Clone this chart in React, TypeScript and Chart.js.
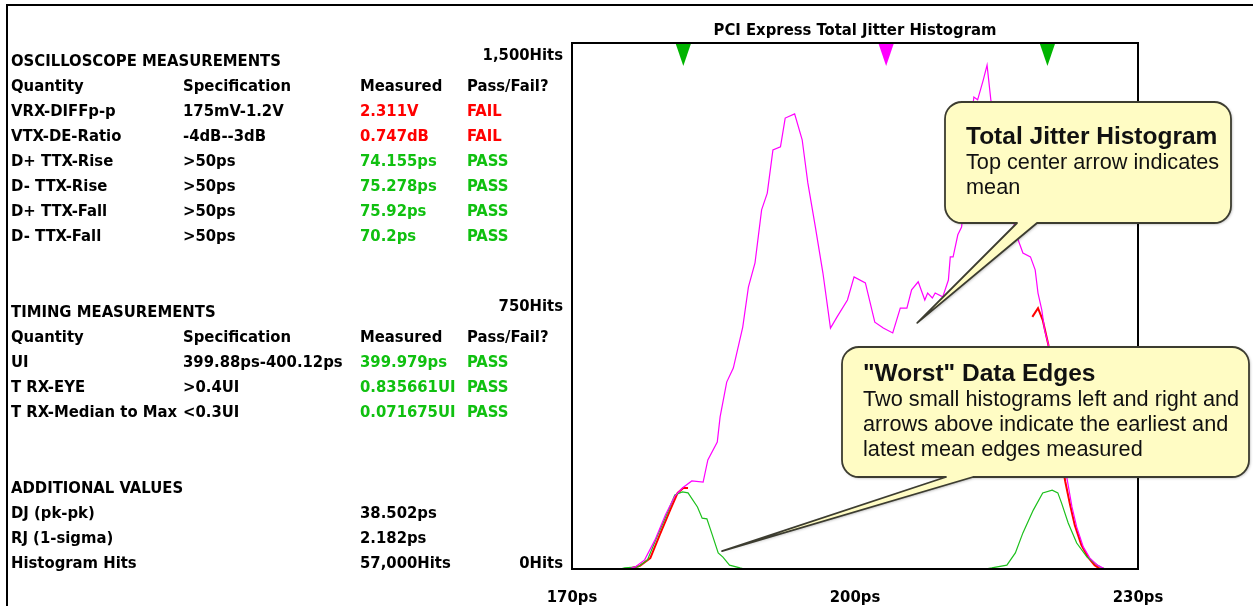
import React, { useEffect, useRef } from "react";
import { Chart, registerables } from "chart.js";

Chart.register(...registerables);

// ---------- data ----------
const totalX = [176.0, 176.7, 177.7, 178.8, 179.9, 180.9, 181.7, 182.7, 183.9, 184.4, 185.4, 185.7, 186.4, 187.1, 188.1, 188.7, 189.4, 190.1, 190.7, 191.3, 192.1, 192.6, 193.6, 194.4, 195.0, 195.8, 196.6, 197.4, 198.1, 199.2, 199.9, 201.1, 202.1, 203.0, 204.0, 204.8, 205.5, 206.0, 206.7, 207.4, 207.7, 208.2, 208.5, 209.3, 209.9, 210.1, 210.4, 210.9, 211.3, 211.8, 212.2, 212.6, 213.0, 213.6, 214.0, 214.4, 215.0, 215.9, 216.6, 217.3, 217.8, 218.6, 219.1, 219.4, 219.8, 220.1, 220.5, 220.9, 221.3, 222.0, 222.5, 223.0, 223.5, 224.2, 224.9, 225.7, 226.5];
const totalY = [0, 6, 26, 83, 154, 208, 231, 251, 248, 311, 362, 434, 533, 573, 690, 804, 873, 1024, 1072, 1195, 1204, 1286, 1298, 1224, 1101, 975, 844, 687, 719, 767, 833, 816, 704, 687, 673, 744, 744, 796, 819, 767, 787, 773, 787, 776, 824, 890, 890, 953, 975, 1109, 1252, 1346, 1338, 1395, 1437, 1338, 1252, 1109, 1010, 938, 901, 890, 853, 787, 739, 682, 639, 539, 425, 325, 254, 177, 120, 63, 31, 11, 0];

const tailLeftX = [175.9, 177.2, 178.3, 179.3, 180.4, 181.2, 181.8, 182.3];
const tailLeftY = [0, 9, 31, 97, 168, 217, 231, 231];
const tailRightX = [218.8, 219.4, 219.9, 220.5, 220.9, 221.3, 222.3, 222.8, 223.3, 224.0, 224.7, 225.4, 226.0];
const tailRightY = [719, 744, 710, 639, 520, 400, 248, 183, 125, 68, 34, 11, 0];

const earlyEdgeX = [175.1, 175.6, 177.0, 178.0, 179.0, 180.1, 180.9, 181.7, 182.3, 183.3, 183.8, 184.3, 184.8, 185.5, 186.0, 186.7, 187.8, 188.3];
const earlyEdgeY = [0, 3, 6, 26, 91, 160, 211, 220, 217, 177, 145, 143, 103, 46, 34, 11, 3, 0];
const lateEdgeX = [213.8, 214.5, 216.1, 217.0, 217.8, 218.9, 219.9, 220.9, 221.5, 221.9, 222.6, 223.5, 224.6, 225.7, 226.2, 226.6];
const lateEdgeY = [0, 3, 11, 46, 103, 168, 217, 225, 217, 188, 131, 74, 34, 11, 3, 0];

const edgeMeanMarkers = [181.8, 220.4];
const totalMeanMarker = [203.3];

const xTickValues = [170, 200, 230];
const xTickLabels = ["170ps", "200ps", "230ps"];
const yTickValues = [0, 750, 1500];
const yTickLabels = ["0Hits", "750Hits", "1,500Hits"];

const chartTitle = "PCI Express Total Jitter Histogram";

const tableHeader = ["Quantity", "Specification", "Measured", "Pass/Fail?"];
const scopeRows = [
  ["VRX-DIFFp-p", "175mV-1.2V", "2.311V", "FAIL"],
  ["VTX-DE-Ratio", "-4dB--3dB", "0.747dB", "FAIL"],
  ["D+ TTX-Rise", ">50ps", "74.155ps", "PASS"],
  ["D- TTX-Rise", ">50ps", "75.278ps", "PASS"],
  ["D+ TTX-Fall", ">50ps", "75.92ps", "PASS"],
  ["D- TTX-Fall", ">50ps", "70.2ps", "PASS"],
];
const timingRows = [
  ["UI", "399.88ps-400.12ps", "399.979ps", "PASS"],
  ["T RX-EYE", ">0.4UI", "0.835661UI", "PASS"],
  ["T RX-Median to Max", "<0.3UI", "0.071675UI", "PASS"],
];
const additionalRows = [
  ["DJ (pk-pk)", "38.502ps"],
  ["RJ (1-sigma)", "2.182ps"],
  ["Histogram Hits", "57,000Hits"],
];

const callout1Title = "Total Jitter Histogram";
const callout1Lines = ["Top center arrow indicates", "mean"];
const callout2Title = "\"Worst\" Data Edges";
const callout2Lines = [
  "Two small histograms left and right and",
  "arrows above indicate the earliest and",
  "latest mean edges measured",
];
// callout pointer tips, in data coordinates
const callout1Tip = { x: 206.6, y: 702 };
const callout2Tip = { x: 185.9, y: 51 };

// ---------- styling ----------
const TABLE_FONT = "'DejaVu Sans Condensed', 'DejaVu Sans', sans-serif";
const CALLOUT_FONT = "'Liberation Sans', Arial, sans-serif";
const RED = "#ff0000";
const GREEN = "#10c010";
const MAGENTA = "#ff00ff";
const LINE_GREEN = "#1cc01c";

const toPoints = (xs: number[], ys: number[]) => xs.map((x, i) => ({ x, y: ys[i] }));

function calloutPath(ctx: CanvasRenderingContext2D, x0: number, y0: number, x1: number, y1: number, r: number, bL: number, bR: number, tx: number, ty: number) {
  ctx.beginPath();
  ctx.moveTo(x0 + r, y0);
  ctx.lineTo(x1 - r, y0);
  ctx.arcTo(x1, y0, x1, y0 + r, r);
  ctx.lineTo(x1, y1 - r);
  ctx.arcTo(x1, y1, x1 - r, y1, r);
  ctx.lineTo(bR, y1);
  ctx.lineTo(tx, ty);
  ctx.lineTo(bL, y1);
  ctx.lineTo(x0 + r, y1);
  ctx.arcTo(x0, y1, x0, y1 - r, r);
  ctx.lineTo(x0, y0 + r);
  ctx.arcTo(x0, y0, x0 + r, y0, r);
  ctx.closePath();
}

const overlayPlugin = {
  id: "overlay",
  afterDatasetsDraw(chart: any) {
    const { ctx, chartArea: a, scales } = chart;
    const xs = scales.x;
    const ys = scales.y;
    ctx.save();
    // frame
    ctx.strokeStyle = "#000";
    ctx.lineWidth = 2;
    ctx.strokeRect(a.left, a.top, a.right - a.left, a.bottom - a.top);

    // mean markers
    const tri = (v: number, color: string) => {
      const px = xs.getPixelForValue(v);
      ctx.beginPath();
      ctx.moveTo(px - 7.5, a.top + 1);
      ctx.lineTo(px + 7.5, a.top + 1);
      ctx.lineTo(px, a.top + 23);
      ctx.closePath();
      ctx.fillStyle = color;
      ctx.fill();
    };
    edgeMeanMarkers.forEach((v) => tri(v, "#00b400"));
    totalMeanMarker.forEach((v) => tri(v, MAGENTA));

    // tick labels
    ctx.fillStyle = "#000";
    ctx.font = `bold 16.5px ${TABLE_FONT}`;
    ctx.textAlign = "right";
    ctx.textBaseline = "middle";
    yTickValues.forEach((v, i) => {
      let py = ys.getPixelForValue(v);
      if (i === 0) py -= 5;
      else if (i === yTickValues.length - 1) py += 13;
      else py += 1;
      ctx.fillText(yTickLabels[i], a.left - 9, py);
    });
    ctx.textAlign = "center";
    xTickValues.forEach((v, i) => {
      ctx.fillText(xTickLabels[i], xs.getPixelForValue(v), a.bottom + 29);
    });

    // callouts
    const drawCallout = (x0: number, y0: number, x1: number, y1: number, bL: number, bR: number, tip: { x: number; y: number }) => {
      const tx = xs.getPixelForValue(tip.x);
      const ty = ys.getPixelForValue(tip.y);
      ctx.save();
      ctx.shadowColor = "rgba(0,0,0,0.35)";
      ctx.shadowBlur = 3;
      ctx.shadowOffsetX = 1;
      ctx.shadowOffsetY = 1;
      calloutPath(ctx, x0, y0, x1, y1, 17, bL, bR, tx, ty);
      ctx.fillStyle = "#fffcc4";
      ctx.fill();
      ctx.restore();
      calloutPath(ctx, x0, y0, x1, y1, 17, bL, bR, tx, ty);
      ctx.strokeStyle = "#3c3c30";
      ctx.lineWidth = 1.8;
      ctx.lineJoin = "round";
      ctx.stroke();
    };
    drawCallout(945, 102, 1231, 223, 1017, 1037, callout1Tip);
    drawCallout(842, 347, 1249, 477, 946, 973, callout2Tip);
    ctx.restore();
  },
};

const cell = (x: number, cy: number, text: string, color = "#000") => (
  <div
    key={`${x}-${cy}-${text}`}
    style={{
      position: "absolute",
      left: x,
      top: cy - 10,
      lineHeight: "20px",
      fontSize: 16.5,
      fontWeight: "bold",
      fontFamily: TABLE_FONT,
      color,
      whiteSpace: "nowrap",
    }}
  >
    {text}
  </div>
);

const COLS = [11, 183, 360, 467];

export default function App() {
  const canvasRef = useRef<HTMLCanvasElement | null>(null);

  useEffect(() => {
    const canvas = canvasRef.current;
    if (!canvas) return;
    const lineDs = (label: string, xs: number[], ys: number[], color: string, width: number) => ({
      label,
      data: toPoints(xs, ys),
      borderColor: color,
      backgroundColor: color,
      borderWidth: width,
      pointRadius: 0,
      tension: 0,
      fill: false,
    });
    const chart = new Chart(canvas, {
      type: "line",
      data: {
        datasets: [
          lineDs("Total jitter", totalX, totalY, MAGENTA, 1.2),
          lineDs("Earliest edges", earlyEdgeX, earlyEdgeY, LINE_GREEN, 1.2),
          lineDs("Latest edges", lateEdgeX, lateEdgeY, LINE_GREEN, 1.2),
          lineDs("Left tail", tailLeftX, tailLeftY, RED, 2),
          lineDs("Right tail", tailRightX, tailRightY, RED, 2),
        ],
      },
      options: {
        animation: false,
        responsive: false,
        devicePixelRatio: 1,
        layout: { padding: { left: 572, top: 43, right: 115, bottom: 37 } },
        scales: {
          x: { type: "linear", min: 170, max: 230, display: false },
          y: { type: "linear", min: 0, max: 1500, display: false },
        },
        plugins: { legend: { display: false }, tooltip: { enabled: false }, title: { display: false } },
      },
      plugins: [overlayPlugin],
    } as any);
    return () => chart.destroy();
  }, []);

  const rows: React.ReactNode[] = [];
  // oscilloscope section
  rows.push(cell(COLS[0], 61, "OSCILLOSCOPE MEASUREMENTS"));
  tableHeader.forEach((h, i) => rows.push(cell(COLS[i], 86, h)));
  scopeRows.forEach((r, j) => {
    const cy = 111 + 25 * j;
    const c = r[3] === "FAIL" ? RED : GREEN;
    rows.push(cell(COLS[0], cy, r[0]));
    rows.push(cell(COLS[1], cy, r[1]));
    rows.push(cell(COLS[2], cy, r[2], c));
    rows.push(cell(COLS[3], cy, r[3], c));
  });
  // timing section
  rows.push(cell(COLS[0], 312, "TIMING MEASUREMENTS"));
  tableHeader.forEach((h, i) => rows.push(cell(COLS[i], 337, h)));
  timingRows.forEach((r, j) => {
    const cy = 362 + 25 * j;
    const c = r[3] === "FAIL" ? RED : GREEN;
    rows.push(cell(COLS[0], cy, r[0]));
    rows.push(cell(COLS[1], cy, r[1]));
    rows.push(cell(COLS[2], cy, r[2], c));
    rows.push(cell(COLS[3], cy, r[3], c));
  });
  // additional
  rows.push(cell(COLS[0], 488, "ADDITIONAL VALUES"));
  additionalRows.forEach((r, j) => {
    const cy = 513 + 25 * j;
    rows.push(cell(COLS[0], cy, r[0]));
    rows.push(cell(COLS[2], cy, r[1]));
  });

  const calloutText = (x: number, top: number, title: string, lines: string[]) => (
    <div style={{ position: "absolute", left: x, top, fontFamily: CALLOUT_FONT, color: "#111", whiteSpace: "nowrap" }}>
      <div style={{ fontSize: 24.5, fontWeight: "bold", lineHeight: "26px", height: 26 }}>{title}</div>
      <div style={{ fontSize: 21.7, lineHeight: "25px" }}>
        {lines.map((l) => (
          <div key={l}>{l}</div>
        ))}
      </div>
    </div>
  );

  return (
    <div style={{ position: "fixed", left: 0, top: 0, width: 1253, height: 606, background: "#fff", overflow: "hidden" }}>
      <div style={{ position: "absolute", left: 6, top: 4, width: 1247, height: 2, background: "#000" }} />
      <div style={{ position: "absolute", left: 6, top: 4, width: 2, height: 602, background: "#000" }} />
      <canvas ref={canvasRef} width={1253} height={606} style={{ position: "absolute", left: 0, top: 0, width: 1253, height: 606 }} />
      {rows}
      <div
        style={{
          position: "absolute",
          left: 855,
          top: 20,
          transform: "translateX(-50%)",
          lineHeight: "20px",
          fontSize: 16.5,
          fontWeight: "bold",
          fontFamily: TABLE_FONT,
          whiteSpace: "nowrap",
        }}
      >
        {chartTitle}
      </div>
      {calloutText(966, 123, callout1Title, callout1Lines)}
      {calloutText(863, 360, callout2Title, callout2Lines)}
    </div>
  );
}
